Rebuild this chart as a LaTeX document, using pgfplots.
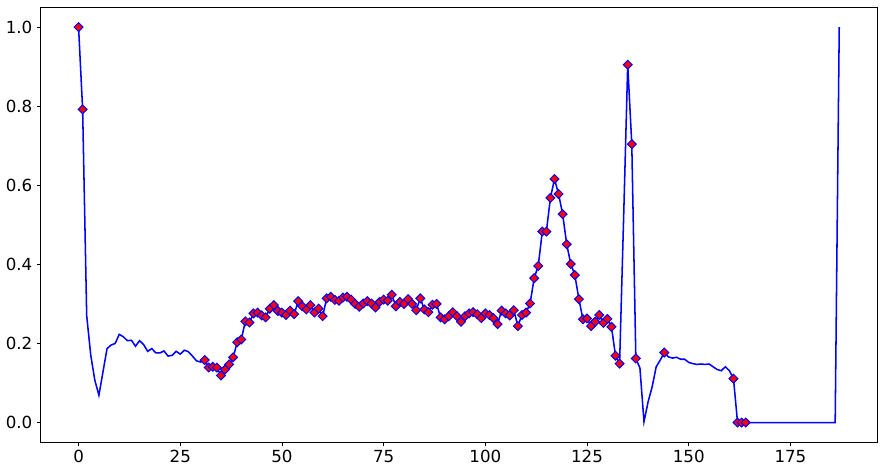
\documentclass[border=0pt]{standalone}
\usepackage{fontspec}
\setmainfont{DejaVu Sans}
\usepackage{pgfplots}
\usepackage{pgfplotstable}
\pgfplotsset{compat=1.18}

% x = sample index, y = normalised amplitude, m = 1 where a marker is drawn
\pgfplotstableread[row sep=\\]{
x y m\\
0 1.000 1\\ 1 0.792 1\\ 2 0.270 0\\ 3 0.170 0\\ 4 0.107 0\\ 5 0.069 0\\
6 0.128 0\\ 7 0.187 0\\ 8 0.196 0\\ 9 0.200 0\\ 10 0.223 0\\ 11 0.217 0\\
12 0.207 0\\ 13 0.208 0\\ 14 0.193 0\\ 15 0.207 0\\ 16 0.197 0\\ 17 0.180 0\\
18 0.187 0\\ 19 0.176 0\\ 20 0.176 0\\ 21 0.181 0\\ 22 0.168 0\\ 23 0.170 0\\
24 0.180 0\\ 25 0.173 0\\ 26 0.183 0\\ 27 0.179 0\\ 28 0.168 0\\ 29 0.156 0\\
30 0.153 0\\ 31 0.158 1\\ 32 0.139 1\\ 33 0.141 1\\ 34 0.139 1\\ 35 0.119 1\\
36 0.134 1\\ 37 0.147 1\\ 38 0.165 1\\ 39 0.203 1\\ 40 0.210 1\\ 41 0.256 1\\
42 0.253 1\\ 43 0.276 1\\ 44 0.278 1\\ 45 0.271 1\\ 46 0.266 1\\ 47 0.288 1\\
48 0.297 1\\ 49 0.282 1\\ 50 0.278 1\\ 51 0.272 1\\ 52 0.283 1\\ 53 0.274 1\\
54 0.307 1\\ 55 0.294 1\\ 56 0.286 1\\ 57 0.297 1\\ 58 0.278 1\\ 59 0.288 1\\
60 0.269 1\\ 61 0.314 1\\ 62 0.318 1\\ 63 0.310 1\\ 64 0.308 1\\ 65 0.316 1\\
66 0.318 1\\ 67 0.311 1\\ 68 0.300 1\\ 69 0.293 1\\ 70 0.301 1\\ 71 0.307 1\\
72 0.301 1\\ 73 0.291 1\\ 74 0.305 1\\ 75 0.311 1\\ 76 0.308 1\\ 77 0.323 1\\
78 0.294 1\\ 79 0.305 1\\ 80 0.300 1\\ 81 0.312 1\\ 82 0.300 1\\ 83 0.284 1\\
84 0.314 1\\ 85 0.286 1\\ 86 0.279 1\\ 87 0.298 1\\ 88 0.300 1\\ 89 0.266 1\\
90 0.261 1\\ 91 0.269 1\\ 92 0.279 1\\ 93 0.269 1\\ 94 0.255 1\\ 95 0.269 1\\
96 0.276 1\\ 97 0.279 1\\ 98 0.274 1\\ 99 0.264 1\\ 100 0.276 1\\ 101 0.272 1\\
102 0.264 1\\ 103 0.249 1\\ 104 0.283 1\\ 105 0.276 1\\ 106 0.271 1\\ 107 0.284 1\\
108 0.244 1\\ 109 0.272 1\\ 110 0.278 1\\ 111 0.301 1\\ 112 0.365 1\\ 113 0.396 1\\
114 0.483 1\\ 115 0.483 1\\ 116 0.568 1\\ 117 0.616 1\\ 118 0.578 1\\ 119 0.527 1\\
120 0.451 1\\ 121 0.401 1\\ 122 0.373 1\\ 123 0.312 1\\ 124 0.261 1\\ 125 0.263 1\\
126 0.244 1\\ 127 0.255 1\\ 128 0.272 1\\ 129 0.252 1\\ 130 0.262 1\\ 131 0.242 1\\
132 0.169 1\\ 133 0.149 1\\ 134 0.520 0\\ 135 0.905 1\\ 136 0.704 1\\ 137 0.162 1\\
138 0.138 0\\ 139 0.002 0\\ 140 0.052 0\\ 141 0.090 0\\ 142 0.141 0\\ 143 0.158 0\\
144 0.177 1\\ 145 0.166 0\\ 146 0.163 0\\ 147 0.165 0\\ 148 0.160 0\\ 149 0.160 0\\
150 0.152 0\\ 151 0.149 0\\ 152 0.147 0\\ 153 0.148 0\\ 154 0.147 0\\ 155 0.148 0\\
156 0.141 0\\ 157 0.134 0\\ 158 0.131 0\\ 159 0.141 0\\ 160 0.131 0\\ 161 0.111 1\\
162 0.000 1\\ 163 0.000 1\\ 164 0.000 1\\ 165 0.000 0\\ 166 0.000 0\\ 167 0.000 0\\
168 0.000 0\\ 169 0.000 0\\ 170 0.000 0\\ 171 0.000 0\\ 172 0.000 0\\ 173 0.000 0\\
174 0.000 0\\ 175 0.000 0\\ 176 0.000 0\\ 177 0.000 0\\ 178 0.000 0\\ 179 0.000 0\\
180 0.000 0\\ 181 0.000 0\\ 182 0.000 0\\ 183 0.000 0\\ 184 0.000 0\\ 185 0.000 0\\
186 0.000 0\\ 187 1.000 0\\
}\ecg

\begin{document}
\begin{tikzpicture}
\begin{axis}[
  name=ax,
  scale only axis, width=627.6pt, height=326.25pt,
  xmin=-9.35, xmax=196.35, ymin=-0.05, ymax=1.05,
  xtick={0,25,50,75,100,125,150,175},
  ytick={0,0.2,0.4,0.6,0.8,1.0},
  yticklabel style={/pgf/number format/.cd, fixed, fixed zerofill, precision=1},
  /pgf/number format/assume math mode=true,
  tick label style={font=\fontsize{12.5}{15}\selectfont},
  tick align=outside, xtick pos=bottom, ytick pos=left,
  major tick length=2.6pt,
  tick style={black, line width=0.6pt},
  axis line style={black, line width=0.6pt},
]
\addplot[blue, line width=1.15pt, no marks] table[x=x, y=y] {\ecg};
\addplot[only marks, mark=square*, mark size=2.35pt,
  mark options={rotate=45, fill=red, draw=blue, line width=0.75pt},
  restrict expr to domain={\thisrow{m}}{0.5:1.5}] table[x=x, y=y] {\ecg};
\end{axis}
\pgfresetboundingbox
\path ([shift={(-30.4pt,-21.5pt)}]ax.south west) rectangle ([shift={(4.3pt,5.5pt)}]ax.north east);
\end{tikzpicture}
\end{document}
